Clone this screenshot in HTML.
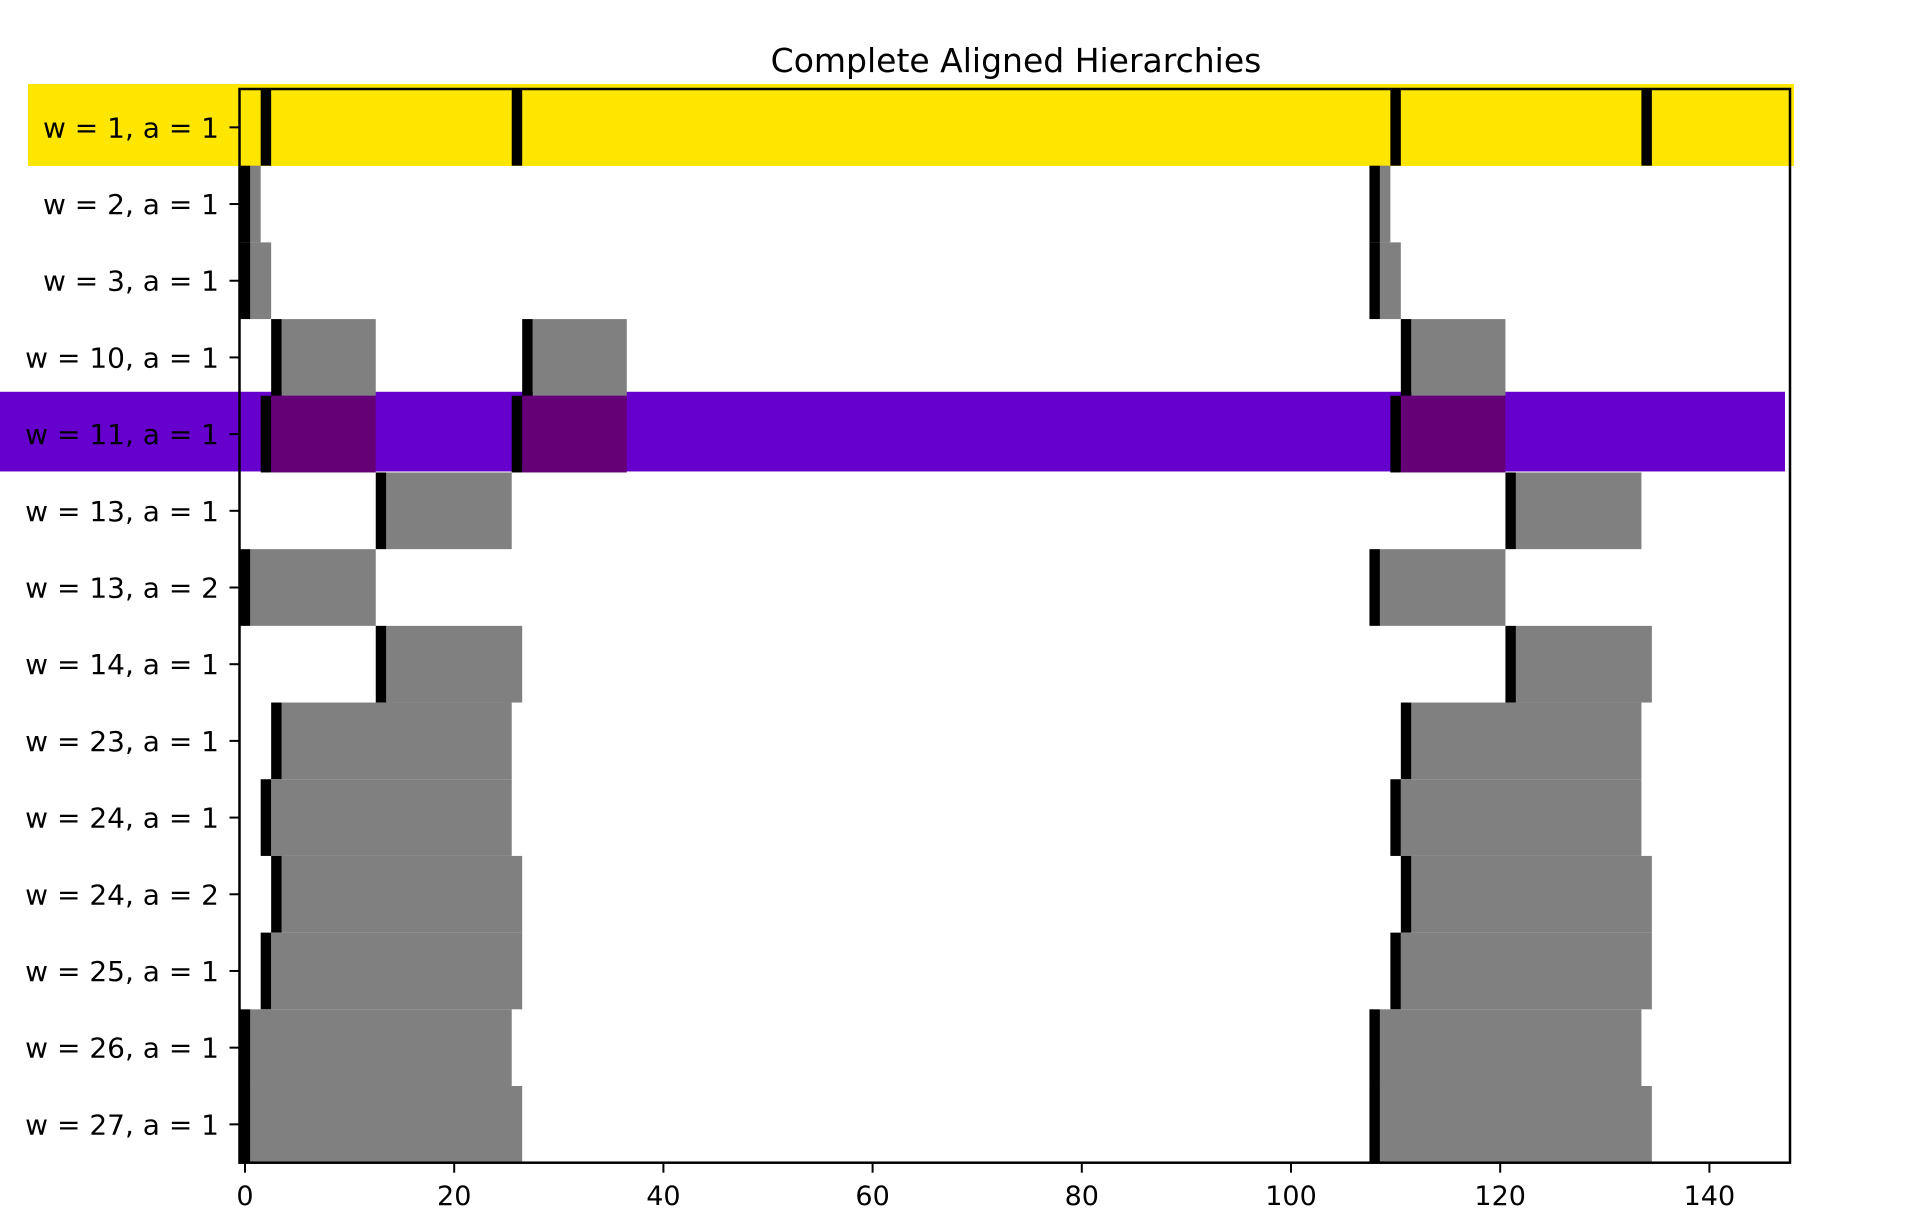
<!DOCTYPE html>
<html><head><meta charset="utf-8"><style>
html,body{margin:0;padding:0;background:#fff;}
svg{display:block;font-family:"DejaVu Sans","Liberation Sans",sans-serif;}
</style></head><body>
<svg id="chart" width="1932" height="1222" viewBox="0 0 1932 1222">
<rect x="28" y="84" width="1766" height="82" fill="#ffe600"/>
<g id="marks"></g>
<g id="axes"></g>
<text x="1016" y="72" text-anchor="middle" font-size="33">Complete Aligned Hierarchies</text>
</svg>
<script>
const labels = ["w = 1, a = 1","w = 2, a = 1","w = 3, a = 1","w = 10, a = 1","w = 11, a = 1","w = 13, a = 1","w = 13, a = 2","w = 14, a = 1","w = 23, a = 1","w = 24, a = 1","w = 24, a = 2","w = 25, a = 1","w = 26, a = 1","w = 27, a = 1"];
const widths = [1,2,3,10,11,13,13,14,23,24,24,25,26,27];
const starts = [[2,26,110,134],[0,108],[0,108],[3,27,111],[2,26,110],[13,121],[0,108],[13,121],[3,111],[2,110],[3,111],[2,110],[0,108],[0,108]];
const xTicks = [0,20,40,60,80,100,120,140];
const highlightRow = 4;

const NS="http://www.w3.org/2000/svg";
const X0=245, K=10.46, L=239.5, R=1790, T=89, B=1162.7;
const RH=(B-T)/labels.length;
const sx=v=>X0+v*K;
const rowY=i=>T+i*RH;
function mk(tag,attrs,parent){const e=document.createElementNS(NS,tag);for(const k in attrs)e.setAttribute(k,attrs[k]);parent.appendChild(e);return e;}
const marks=document.getElementById('marks');
const axes=document.getElementById('axes');

const pr=mk('rect',{x:0,y:rowY(highlightRow)-4,width:1785,height:RH+3,fill:'#6600cc'},marks);



labels.forEach((lab,i)=>{
  const y=rowY(i), w=widths[i];
  starts[i].forEach(s=>{
    if(w>1){
      const g=mk('rect',{x:sx(s+0.5),y:y,width:(w-1)*K,height:RH,fill:i===highlightRow?'#660077':'#808080'},marks);
      
      
    }
    const b=mk('rect',{x:sx(s-0.5),y:y,width:K,height:RH,fill:'#000'},marks);
    
    
  });
  const cy=y+RH/2;
  const tk=mk('line',{x1:L-10,x2:L,y1:cy,y2:cy,stroke:'#000','stroke-width':2},axes);
  
  
  const t=mk('text',{x:219,y:cy+10,'text-anchor':'end','font-size':28},axes);
  t.textContent=lab;
  
  
});
xTicks.forEach(v=>{
  const tk=mk('line',{x1:sx(v),x2:sx(v),y1:B,y2:B+10,stroke:'#000','stroke-width':2},axes);
  
  
  const t=mk('text',{x:sx(v),y:1205,'text-anchor':'middle','font-size':27},axes);
  t.textContent=String(v);
  
  
});
const fr=mk('rect',{x:L,y:T,width:R-L,height:B-T,fill:'none',stroke:'#000','stroke-width':2.5},axes);


</script>
</body></html>
